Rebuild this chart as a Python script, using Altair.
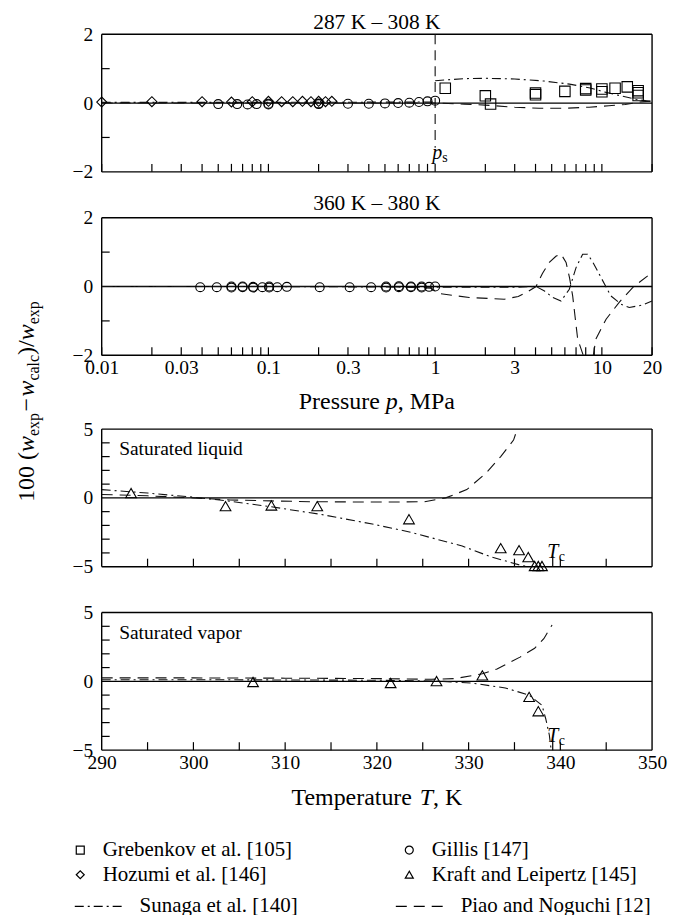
import altair as alt
import pandas as pd

FONT = "Liberation Serif"

# ---------------- data ----------------
sources = ["Grebenkov et al. [105]", "Hozumi et al. [146]", "Gillis [147]", "Kraft and Leipertz [145]"]
shapes = ["square", "diamond", "circle", "triangle-up"]
models = ["Sunaga et al. [140]", "Piao and Noguchi [12]"]
dashes = [[9, 4, 2, 4], [11, 7]]

# Panel 1: 287 K - 308 K (pressure, MPa)
p1_greb_p = [1.15, 2.0, 2.15, 4.0, 4.0, 6.0, 8.0, 8.0, 10.0, 10.0, 12.0, 14.2, 16.5, 16.5, 16.5]
p1_greb_d = [0.43, 0.21, -0.03, 0.24, 0.29, 0.34, 0.38, 0.42, 0.33, 0.41, 0.43, 0.47, 0.22, 0.30, 0.36]
p1_hoz_p = [0.01, 0.02, 0.04, 0.06, 0.08, 0.10, 0.12, 0.14, 0.16, 0.18, 0.20, 0.22, 0.24]
p1_hoz_d = [0.03, 0.04, 0.04, 0.03, 0.04, 0.05, 0.04, 0.04, 0.05, 0.04, 0.05, 0.04, 0.05]
p1_gil_p = [0.05, 0.065, 0.075, 0.085, 0.10, 0.10, 0.20, 0.20, 0.30, 0.40, 0.50, 0.60, 0.70, 0.80, 0.90, 1.0]
p1_gil_d = [-0.03, -0.03, -0.04, -0.03, -0.04, -0.02, -0.03, -0.01, -0.02, -0.02, -0.01, 0.0, 0.01, 0.03, 0.05, 0.07]
p1_sun_lo_p = [0.01, 0.1, 1.0]
p1_sun_lo_d = [0.02, 0.02, 0.03]
p1_sun_hi_p = [1.0, 1.5, 2.0, 3.0, 4.5, 6.4, 8.5, 10.6, 13.0, 16.0, 20.0]
p1_sun_hi_d = [0.65, 0.71, 0.72, 0.70, 0.64, 0.55, 0.44, 0.31, 0.21, 0.11, 0.04]
p1_pia_p = [0.01, 0.1, 1.0, 1.5, 2.0, 3.0, 4.2, 6.0, 8.4, 11.0, 13.8, 16.9, 20.0]
p1_pia_d = [0.0, 0.0, 0.0, -0.03, -0.06, -0.12, -0.15, -0.15, -0.12, -0.08, -0.04, 0.03, 0.06]

# Panel 2: 360 K - 380 K
p2_gil_p = [0.039, 0.049, 0.06, 0.06, 0.07, 0.07, 0.081, 0.081, 0.092, 0.101, 0.101, 0.113, 0.129,
            0.203, 0.307, 0.413, 0.508, 0.508, 0.606, 0.606, 0.716, 0.716, 0.83, 0.83, 0.92, 1.0]
p2_gil_d = [-0.02, -0.02, -0.03, 0.0, -0.02, 0.0, -0.03, -0.01, -0.02, -0.03, 0.0, -0.02, -0.01,
            -0.02, -0.02, -0.02, -0.03, 0.0, -0.02, 0.01, -0.02, 0.0, -0.03, 0.0, -0.01, 0.0]
p2_sun_p = [0.01, 0.1, 1.0, 2.0, 3.0, 4.03, 4.5, 5.07, 5.69, 6.38, 7.0, 7.67, 8.2, 8.8, 9.64,
            11.3, 13.0, 14.6, 17.5, 20.0]
p2_sun_d = [0.0, 0.0, -0.02, -0.02, -0.02, 0.0, -0.12, -0.32, -0.42, -0.08, 0.55, 0.94, 0.94, 0.72, 0.36,
            -0.27, -0.51, -0.61, -0.54, -0.42]
p2_pia_p = [0.01, 0.1, 0.5, 0.95, 1.05, 1.6, 2.6, 3.15, 3.6, 4.03, 4.4, 4.84, 5.3, 5.69, 6.1, 6.4,
            6.68, 7.16, 7.67, 8.2, 8.7, 9.2, 10.6, 12.7, 15.3, 20.0]
p2_pia_d = [0.0, 0.0, 0.0, -0.05, -0.2, -0.32, -0.37, -0.29, -0.15, 0.0, 0.38, 0.70, 0.88, 0.94, 0.70, 0.25,
            -0.27, -1.53, -1.95, -2.3, -2.3, -1.53, -0.95, -0.46, -0.03, 0.41]

# Panel 3: saturated liquid (temperature, K)
p3_kra_T = [293.2, 303.5, 308.5, 313.5, 323.5, 333.5, 335.5, 336.5, 337.2, 337.6, 338.0]
p3_kra_d = [0.35, -0.6, -0.55, -0.6, -1.55, -3.65, -3.8, -4.3, -4.95, -4.95, -4.95]
p3_sun_T = [290, 295, 300, 303.5, 308.5, 313.9, 319.5, 323.7, 329.3, 332.5, 335.7, 336.6]
p3_sun_d = [0.6, 0.35, 0.05, -0.2, -0.65, -1.2, -1.9, -2.5, -3.5, -4.3, -4.9, -5.0]
p3_pia_T = [290, 295, 300, 304, 308.5, 313, 318.5, 322, 325.2, 327.5, 329.8, 331.9, 333.5, 334.9, 335.3]
p3_pia_d = [0.25, 0.15, 0.0, -0.15, -0.22, -0.28, -0.3, -0.3, -0.28, 0.0, 0.6, 1.8, 3.0, 4.2, 5.0]

# Panel 4: saturated vapor
p4_kra_T = [306.5, 321.5, 326.5, 331.5, 336.6, 337.6]
p4_kra_d = [-0.05, -0.12, 0.02, 0.43, -1.13, -2.17]
p4_sun_T = [290, 300, 310, 320, 326.5, 330.3, 334.0, 336.6, 338.0, 338.4, 338.8, 339.0]
p4_sun_d = [0.12, 0.12, 0.1, 0.08, 0.02, -0.12, -0.48, -1.0, -1.74, -2.7, -3.9, -5.0]
p4_pia_T = [290, 300, 310, 320, 326, 328.5, 331.5, 333.1, 335.6, 337.2, 338.2, 339.1]
p4_pia_d = [0.25, 0.25, 0.23, 0.2, 0.15, 0.2, 0.55, 0.9, 1.76, 2.4, 3.1, 4.1]

T_crit = 339.17
p_sat = 1.0

p_labels = [0.01, 0.03, 0.1, 0.3, 1, 3, 10, 20]
T_labels = [290, 300, 310, 320, 330, 340, 350]

# ---------------- layout helpers ----------------
W, H, TK, GAP = 552, 138, 8, 28
ROMAN = {' ': 250, '(': 333, ')': 333, '/': 278, ',': 250, '.': 250, '\u2212': 564, '\u2013': 500,
         '[': 333, ']': 333, 'K': 722, 'M': 889, 'P': 556, 'T': 611,
         'a': 444, 'c': 444, 'e': 444, 'l': 278, 'm': 778, 'p': 500, 'r': 333, 's': 389,
         't': 278, 'u': 500, 'x': 500}
ITAL = {'w': 667, 'p': 500, 'T': 556}


def tw(s, size, ital=False):
    tab = ITAL if ital else ROMAN
    return sum(tab.get(c, 500) for c in s) * size / 1000.0


def rich(segs, x0, y0, vertical=False):
    layers, pos = [], 0.0
    for text, size, ital, shift in segs:
        w = tw(text, size, ital)
        if text.strip():
            if vertical:
                x, y = x0 + shift, y0 - pos
            else:
                x, y = x0 + pos, y0 + shift
            kw = dict(text=text, font=FONT, fontSize=size, fontStyle='italic' if ital else 'normal',
                      align='left', baseline='alphabetic', color='black')
            if vertical:
                kw['angle'] = 270
            layers.append(alt.Chart(alt.Data(values=[{}])).mark_text(**kw)
                          .encode(x=alt.value(x), y=alt.value(y)))
        pos += w
    return layers


def centered(segs, cx, y0):
    total = sum(tw(t, s, i) for t, s, i, _ in segs)
    return rich(segs, cx - total / 2.0, y0)


shape_enc = alt.Shape('source:N', scale=alt.Scale(domain=sources, range=shapes),
                      legend=alt.Legend(title=None, orient='none', legendX=-32, legendY=807.5,
                                        columns=2, columnPadding=106, rowPadding=3,
                                        labelFont=FONT, labelFontSize=21, labelColor='black',
                                        labelOffset=12, labelLimit=0, symbolSize=64,
                                        symbolStrokeColor='black', symbolFillColor='transparent',
                                        symbolStrokeWidth=1.2))
dash_enc = alt.StrokeDash('model:N', scale=alt.Scale(domain=models, range=dashes),
                          legend=alt.Legend(title=None, orient='none', legendX=-28, legendY=850,
                                            columns=2, columnPadding=95, rowPadding=0,
                                            labelFont=FONT, labelFontSize=21, labelColor='black',
                                            labelOffset=17, labelLimit=0, symbolType='stroke',
                                            symbolSize=2209, symbolStrokeWidth=1.2,
                                            symbolStrokeColor='black'))

SIZES = {sources[0]: 110, sources[1]: 100, sources[2]: 80, sources[3]: 115}


def yaxis(vals):
    return alt.Axis(values=vals, title=None, ticks=False, tickSize=0, domain=False, grid=False,
                    labelFont=FONT, labelFontSize=19.5, labelColor='black', labelPadding=9)


def xaxis(vals, fmt):
    return alt.Axis(values=vals, title=None, ticks=False, tickSize=0, domain=False, grid=False,
                    labelFont=FONT, labelFontSize=19.5, labelColor='black', labelPadding=3,
                    labelOverlap=False, labelFlush=False, format=fmt)


def panel(xs, xdom, xax, ydom, top, yax, xticks, yticks, pts, lines, extra):
    ys = alt.Scale(domain=ydom, range=[top + H, top], nice=False, zero=False)
    base = lambda: alt.Chart(alt.Data(values=[{}]))
    X = lambda v: alt.X(datum=v, scale=xs, axis=xax)
    Y = lambda v: alt.Y(datum=v, scale=ys, axis=yax)
    layers = []
    # frame
    for yv in ydom:
        layers.append(base().mark_rule(color='black', strokeWidth=1.4).encode(y=Y(yv)))
    for xv in xdom:
        layers.append(base().mark_rule(color='black', strokeWidth=1.4)
                      .encode(x=X(xv), y=Y(ydom[0]), y2=alt.Y2(datum=ydom[1])))
    # zero line
    layers.append(base().mark_rule(color='black', strokeWidth=1.3).encode(y=Y(0)))
    # inward ticks
    layers.append(alt.Chart(pd.DataFrame({'v': xticks})).mark_rule(color='black', strokeWidth=1.2)
                  .encode(x=alt.X('v:Q', scale=xs, axis=xax), y=alt.value(top + H),
                          y2=alt.value(top + H - TK)))
    layers.append(alt.Chart(pd.DataFrame({'v': yticks})).mark_rule(color='black', strokeWidth=1.2)
                  .encode(y=alt.Y('v:Q', scale=ys, axis=yax), x=alt.value(0), x2=alt.value(TK)))
    ldf = pd.concat(lines, ignore_index=True)
    layers.append(alt.Chart(ldf).mark_line(clip=True, color='#111', strokeWidth=1.1)
                  .encode(x=alt.X('x:Q', scale=xs, axis=xax), y=alt.Y('d:Q', scale=ys, axis=yax),
                          strokeDash=dash_enc, detail='seg:N', order='x:Q'))
    for src, df in pts:
        layers.append(alt.Chart(df).mark_point(filled=False, color='black', strokeWidth=1.1,
                                                size=SIZES[src], opacity=1)
                      .encode(x=alt.X('x:Q', scale=xs, axis=xax), y=alt.Y('d:Q', scale=ys, axis=yax),
                              shape=shape_enc))
    layers.extend(extra(X, Y, base, top))
    return alt.layer(*layers).properties(width=W, height=top + H)


def pts_df(src, xs_, ds_):
    return (src, pd.DataFrame({'source': src, 'x': xs_, 'd': ds_}))


def line_df(model, seg, xs_, ds_):
    return pd.DataFrame({'model': model, 'seg': seg, 'x': xs_, 'd': ds_})


xs_p = alt.Scale(type='log', domain=[0.01, 20], nice=False)
xs_t = alt.Scale(domain=[290, 350], nice=False, zero=False)
p_ticks = [k * 10.0 ** e for e in (-2, -1, 0, 1) for k in range(1, 10) if k * 10.0 ** e <= 20]
t_ticks = list(range(295, 350, 5))


def extra1(X, Y, base, top):
    return [
        base().mark_rule(color='#111', strokeWidth=1.1, strokeDash=[10, 6])
        .encode(x=X(p_sat), y=Y(2), y2=alt.Y2(datum=-1.3)),
        base().mark_text(text='p', font=FONT, fontSize=20, fontStyle='italic', align='center',
                         baseline='alphabetic', dx=2, color='black')
        .encode(x=X(p_sat), y=Y(-1.62)),
        base().mark_text(text='s', font=FONT, fontSize=14, align='left', baseline='alphabetic',
                         dx=7, dy=3, color='black')
        .encode(x=X(p_sat), y=Y(-1.62)),
    ] + centered([("287 K \u2013 308 K", 21.5, False, 0)], W / 2, -5)


YT = [("100 (", 24, False, 0), ("w", 24, True, 0), ("exp", 16, False, 5), (" ", 6, False, 0),
      ("\u2212", 24, False, 0), (" ", 6, False, 0), ("w", 24, True, 0), ("calc", 16, False, 5),
      (")/", 24, False, 0), ("w", 24, True, 0), ("exp", 16, False, 5)]


def extra2(X, Y, base, top):
    out = rich(YT, -68, 285, vertical=True)
    out += centered([("Pressure", 24, False, 0), (" ", 24, False, 0), ("p", 24, True, 0),
                     (",", 24, False, 0), (" ", 24, False, 0), ("MPa", 24, False, 0)], W / 2, H + 54)
    out += centered([("360 K \u2013 380 K", 21.5, False, 0)], W / 2, -8)
    return out


def tc_marks(X, Y, base, label):
    return [
        base().mark_rule(color='black', strokeWidth=1.2)
        .encode(x=X(T_crit), y=Y(-5), y2=alt.Y2(datum=-4.2)),
        base().mark_text(text='T', font=FONT, fontSize=20, fontStyle='italic', align='center',
                         baseline='alphabetic', color='black')
        .encode(x=X(T_crit), y=Y(-4.4)),
        base().mark_text(text='c', font=FONT, fontSize=14, align='left', baseline='alphabetic',
                         dx=6, dy=3, color='black')
        .encode(x=X(T_crit), y=Y(-4.4)),
        base().mark_text(text=label, font=FONT, fontSize=19.5, align='left', baseline='alphabetic',
                         color='black')
        .encode(x=X(291.9), y=Y(3.1)),
    ]


def extra3(X, Y, base, top):
    return tc_marks(X, Y, base, "Saturated liquid")


def extra4(X, Y, base, top):
    out = tc_marks(X, Y, base, "Saturated vapor")
    out += centered([("Temperature", 24, False, 0), (" ", 24, False, 0), ("T", 24, True, 0),
                     (",", 24, False, 0), (" ", 24, False, 0), ("K", 24, False, 0)], W / 2, H + 55)
    return out


c1 = panel(xs_p, [0.01, 20], None, [-2, 2], 0, yaxis([-2, 0, 2]), p_ticks, [-1, 1],
           [pts_df(sources[0], p1_greb_p, p1_greb_d), pts_df(sources[2], p1_gil_p, p1_gil_d),
            pts_df(sources[1], p1_hoz_p, p1_hoz_d)],
           [line_df(models[0], 'a', p1_sun_lo_p, p1_sun_lo_d), line_df(models[0], 'b', p1_sun_hi_p, p1_sun_hi_d),
            line_df(models[1], 'c', p1_pia_p, p1_pia_d)], extra1)
c2 = panel(xs_p, [0.01, 20], xaxis(p_labels, '~g'), [-2, 2], 0, yaxis([-2, 0, 2]), p_ticks, [-1, 1],
           [pts_df(sources[2], p2_gil_p, p2_gil_d)],
           [line_df(models[0], 'a', p2_sun_p, p2_sun_d), line_df(models[1], 'c', p2_pia_p, p2_pia_d)], extra2)
c3 = panel(xs_t, [290, 350], None, [-5, 5], GAP, yaxis([-5, 0, 5]), t_ticks,
           [-4, -3, -2, -1, 1, 2, 3, 4],
           [pts_df(sources[3], p3_kra_T, p3_kra_d)],
           [line_df(models[0], 'a', p3_sun_T, p3_sun_d), line_df(models[1], 'c', p3_pia_T, p3_pia_d)], extra3)
c4 = panel(xs_t, [290, 350], xaxis(T_labels, 'd'), [-5, 5], 0, yaxis([-5, 0, 5]), t_ticks,
           [-4, -3, -2, -1, 1, 2, 3, 4],
           [pts_df(sources[3], p4_kra_T, p4_kra_d)],
           [line_df(models[0], 'a', p4_sun_T, p4_sun_d), line_df(models[1], 'c', p4_pia_T, p4_pia_d)], extra4)

chart = alt.vconcat(c1, c2, c3, c4, spacing=46, bounds='flush').properties(
    padding={'left': 14, 'top': 10, 'right': 5, 'bottom': 0}
).configure(font=FONT).configure_view(stroke='transparent')

chart.save("out.html", embed_options={"renderer": "svg", "actions": False})
